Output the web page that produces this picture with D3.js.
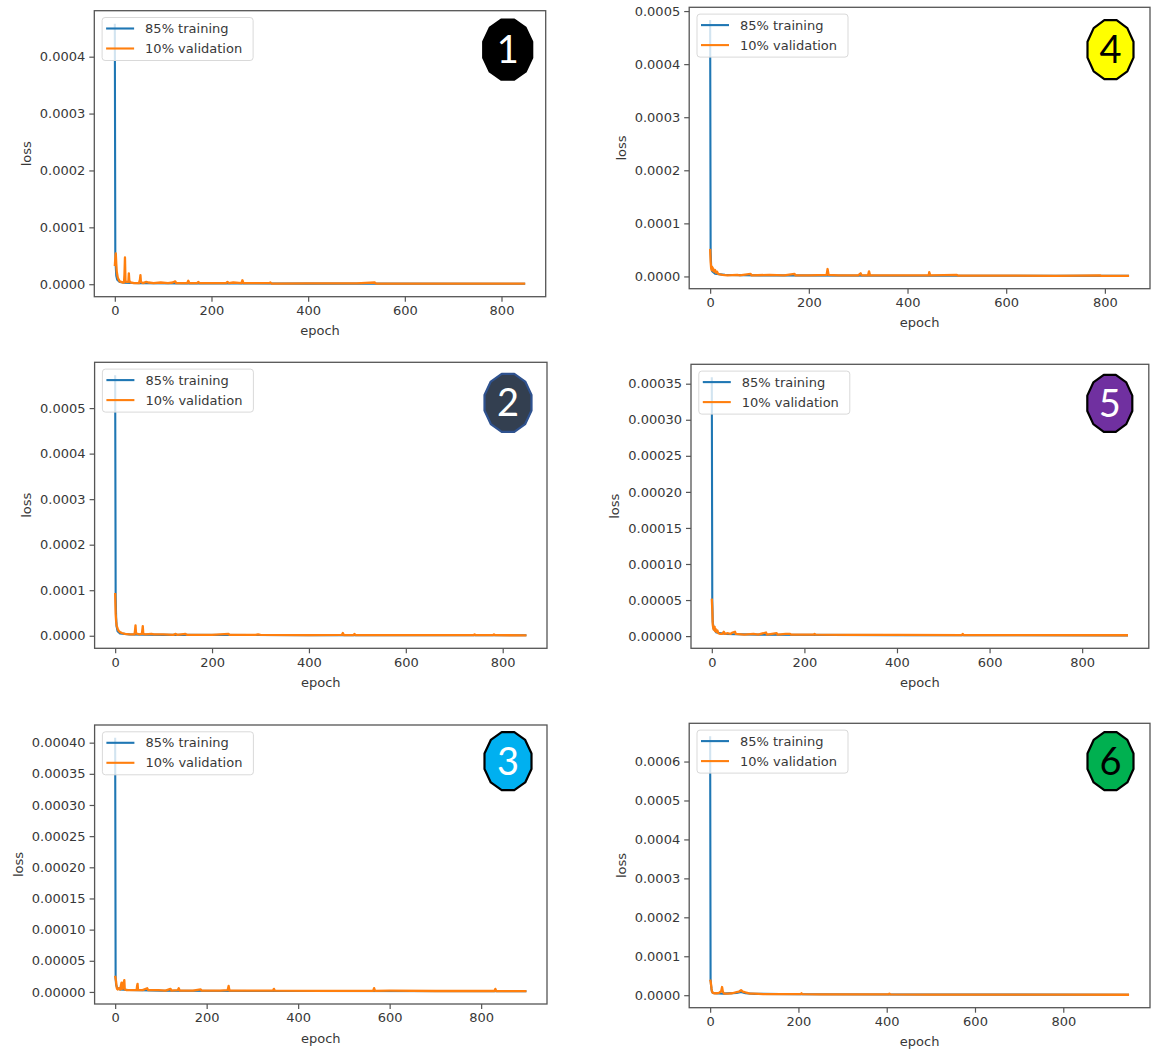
<!DOCTYPE html>
<html><head><meta charset="utf-8">
<script src="https://cdn.jsdelivr.net/npm/d3@7"></script>
<style>
body{margin:0;background:#fff;}
svg{display:block;}
</style></head><body>
<svg id="chart" width="1151" height="1049"></svg>
<script>
// ---------------- data ----------------
const xTicks = [0, 200, 400, 600, 800];
const legendLabels = ["85% training", "10% validation"];
const badgeLabels = ["1", "2", "3", "4", "5", "6"];
const xLabel = "epoch";
const yLabel = "loss";

const p1YTicks = [0, 0.0001, 0.0002, 0.0003, 0.0004];
const p2YTicks = [0, 0.0001, 0.0002, 0.0003, 0.0004, 0.0005];
const p3YTicks = [0, 0.00005, 0.0001, 0.00015, 0.0002, 0.00025, 0.0003, 0.00035, 0.0004];
const p4YTicks = [0, 0.0001, 0.0002, 0.0003, 0.0004, 0.0005];
const p5YTicks = [0, 0.00005, 0.0001, 0.00015, 0.0002, 0.00025, 0.0003, 0.00035];
const p6YTicks = [0, 0.0001, 0.0002, 0.0003, 0.0004, 0.0005, 0.0006];

// [epoch, loss]
const p1Train = [[0,4.58e-4],[1,5.5e-5],[2,3.0e-5],[3,1.5e-5],[5,8e-6],[10,4e-6],[20,2.5e-6],[50,1.8e-6],[150,1.4e-6],[400,1.1e-6],[849,9e-7]];
const p1Val = [[0,3.2e-5],[1,4.5e-5],[2,5.4e-5],[3,3.6e-5],[4,2.2e-5],[5,1.7e-5],[6,1.2e-5],[8,8e-6],[10,5e-6],[13,4e-6],[16,3e-6],[19,3e-6],[20,1.8e-5],[21,4.7e-5],[22,6e-6],[24,4e-6],[28,4e-6],[29,1.9e-5],[30,6e-6],[33,3e-6],[40,2e-6],[50,2e-6],[52,8e-6],[53,1.6e-5],[54,4e-6],[58,2e-6],[65,4e-6],[70,3e-6],[80,2e-6],[95,3e-6],[110,2e-6],[120,3e-6],[125,5e-6],[127,2e-6],[150,2e-6],[152,6e-6],[154,2e-6],[170,2e-6],[173,4e-6],[175,2e-6],[230,2e-6],[233,4e-6],[236,2e-6],[245,3e-6],[262,2e-6],[264,7e-6],[266,2e-6],[320,2e-6],[322,3e-6],[324,1.2e-6],[400,1.5e-6],[500,1.5e-6],[538,3e-6],[540,1.2e-6],[650,1e-6],[750,1e-6],[849,1e-6]];

const p2Train = [[0,5.72e-4],[1,9e-5],[2,4e-5],[3,2e-5],[5,1e-5],[10,5e-6],[30,3e-6],[100,2e-6],[400,1.4e-6],[849,1e-6]];
const p2Val = [[0,9.4e-5],[1,4.8e-5],[2,3.2e-5],[3,2.2e-5],[5,1.6e-5],[7,1.1e-5],[10,8e-6],[14,6e-6],[20,4e-6],[30,3e-6],[40,3e-6],[41,1.2e-5],[42,2.3e-5],[43,6e-6],[46,4e-6],[50,3e-6],[55,4e-6],[56,1.2e-5],[57,2.1e-5],[58,4e-6],[62,3e-6],[75,4e-6],[80,3e-6],[100,3e-6],[120,2e-6],[125,4e-6],[128,2e-6],[145,4e-6],[148,2e-6],[200,2e-6],[234,4e-6],[236,2e-6],[290,2e-6],[295,3e-6],[300,2e-6],[400,1.5e-6],[468,2e-6],[470,6e-6],[472,1.5e-6],[492,1.5e-6],[494,4e-6],[496,1.5e-6],[600,1.2e-6],[740,1.2e-6],[742,3e-6],[744,1.2e-6],[780,1.2e-6],[782,3e-6],[784,1.2e-6],[849,1e-6]];

const p3Train = [[0,4.08e-4],[1,2.2e-5],[2,1.2e-5],[4,7e-6],[10,4e-6],[30,3e-6],[100,2e-6],[400,1.4e-6],[899,1e-6]];
const p3Val = [[0,2.6e-5],[1,2.1e-5],[2,1.7e-5],[3,9e-6],[4,5e-6],[6,4e-6],[9,6e-6],[11,4e-6],[13,1.2e-5],[14,1.5e-5],[15,5e-6],[17,6e-6],[19,1.6e-5],[20,1.9e-5],[21,4e-6],[25,3e-6],[35,3e-6],[47,3e-6],[48,1e-5],[49,1.3e-5],[50,3e-6],[60,3e-6],[70,6e-6],[72,3e-6],[95,3e-6],[110,2e-6],[121,5e-6],[123,2e-6],[137,3e-6],[139,6e-6],[141,2e-6],[170,2e-6],[187,4e-6],[189,2e-6],[230,2e-6],[246,3e-6],[248,9.7e-6],[250,2e-6],[300,2e-6],[345,2e-6],[347,5e-6],[349,2e-6],[450,1.8e-6],[564,1.8e-6],[566,6e-6],[568,1.8e-6],[600,2e-6],[700,1.5e-6],[829,1.5e-6],[831,5e-6],[833,1.5e-6],[899,1.3e-6]];

const p4Train = [[0,4.83e-4],[1,4.8e-5],[2,2e-5],[4,1e-5],[10,5e-6],[30,3e-6],[100,2e-6],[400,1.4e-6],[849,1e-6]];
const p4Val = [[0,5.2e-5],[1,2.8e-5],[2,1.6e-5],[3,1.2e-5],[4,1.8e-5],[5,1.1e-5],[6,1.5e-5],[8,9e-6],[10,1.2e-5],[12,7e-6],[14,9e-6],[16,5e-6],[20,4e-6],[25,3e-6],[35,2e-6],[55,3e-6],[60,2e-6],[82,5e-6],[84,2e-6],[120,3e-6],[150,2e-6],[171,5e-6],[173,2e-6],[200,2e-6],[236,3e-6],[238,1.4e-5],[240,3e-6],[260,2e-6],[300,2e-6],[305,6e-6],[307,2e-6],[320,2e-6],[322,9.5e-6],[324,2e-6],[380,2e-6],[443,2e-6],[444,8e-6],[446,2e-6],[500,3e-6],[502,1.5e-6],[620,1.5e-6],[700,1.2e-6],[790,2e-6],[792,1.2e-6],[849,1e-6]];

const p5Train = [[0,3.59e-4],[1,5e-5],[2,2e-5],[4,1e-5],[10,5e-6],[30,3e-6],[100,2e-6],[400,1.4e-6],[899,1e-6]];
const p5Val = [[0,5.2e-5],[1,3.8e-5],[2,1.6e-5],[3,1.2e-5],[4,9e-6],[5,1.1e-5],[6,1.3e-5],[7,7e-6],[8,1e-5],[10,6e-6],[12,8e-6],[14,4e-6],[18,3e-6],[22,3e-6],[26,6e-6],[28,3e-6],[35,4e-6],[40,3e-6],[45,5e-6],[50,6e-6],[52,3e-6],[70,2e-6],[90,3e-6],[100,2e-6],[117,5e-6],[119,2e-6],[130,3e-6],[140,4e-6],[142,2e-6],[160,3e-6],[169,3e-6],[171,2e-6],[220,2e-6],[222,3e-6],[224,2e-6],[300,1.8e-6],[400,1.6e-6],[540,1.5e-6],[542,3e-6],[544,1.5e-6],[700,1.3e-6],[899,1.2e-6]];

const p6Train = [[0,6.65e-4],[1,4e-5],[2,2.6e-5],[3,1.6e-5],[4,1e-5],[6,6e-6],[10,5e-6],[30,4e-6],[60,6e-6],[70,8e-6],[80,5e-6],[100,3.5e-6],[200,2.5e-6],[400,1.8e-6],[949,1.1e-6]];
const p6Val = [[0,4e-5],[1,3.6e-5],[2,2.8e-5],[3,1.8e-5],[4,1e-5],[6,6e-6],[10,5e-6],[15,5e-6],[20,6e-6],[25,1e-5],[27,2.1e-5],[29,8e-6],[32,4e-6],[40,4e-6],[50,5e-6],[60,8e-6],[65,9e-6],[70,1.3e-5],[74,9e-6],[80,7e-6],[90,4e-6],[100,4e-6],[120,3e-6],[160,3e-6],[205,3e-6],[207,5e-6],[209,3e-6],[250,2e-6],[300,2e-6],[404,2e-6],[406,4e-6],[408,2e-6],[500,1.7e-6],[600,1.6e-6],[800,1.4e-6],[949,1.2e-6]];

// ---------------- layout / style ----------------
const panels = [
  {train:p1Train, val:p1Val, yTicks:p1YTicks, fmt:".4f", badge:badgeLabels[0],
   box:{l:94.3, r:545.7, t:10.7, b:296.7}, bc:[507.7,49.7], bs:[49,60], fill:"#000000", stroke:"#000000", tc:"#ffffff"},
  {train:p2Train, val:p2Val, yTicks:p2YTicks, fmt:".4f", badge:badgeLabels[1],
   box:{l:94.6, r:547, t:362.3, b:648.3}, bc:[508,402.8], bs:[47,58], fill:"#333f50", stroke:"#2f528f", tc:"#ffffff"},
  {train:p3Train, val:p3Val, yTicks:p3YTicks, fmt:".5f", badge:badgeLabels[2],
   box:{l:94.6, r:547, t:725, b:1004}, bc:[508,761.2], bs:[47,58], fill:"#00b0f0", stroke:"#000000", tc:"#ffffff"},
  {train:p4Train, val:p4Val, yTicks:p4YTicks, fmt:".4f", badge:badgeLabels[3],
   box:{l:689.2, r:1150, t:7.3, b:288.7}, bc:[1110.5,49.7], bs:[46,59], fill:"#ffff00", stroke:"#000000", tc:"#000000"},
  {train:p5Train, val:p5Val, yTicks:p5YTicks, fmt:".5f", badge:badgeLabels[4],
   box:{l:691, r:1148.8, t:364.3, b:648.3}, bc:[1109.8,403.3], bs:[45,57], fill:"#7030a0", stroke:"#000000", tc:"#ffffff"},
  {train:p6Train, val:p6Val, yTicks:p6YTicks, fmt:".4f", badge:badgeLabels[5],
   box:{l:689.2, r:1150, t:723.3, b:1007.7}, bc:[1110.5,761.2], bs:[46,58], fill:"#00b050", stroke:"#000000", tc:"#000000"}
];

const FONT = "'DejaVu Sans', sans-serif";
const TXT = "#383838";
const SPINE = "#555555";
const C_TRAIN = "#1f77b4", C_VAL = "#ff7f0e";

const svg = d3.select("#chart");
svg.append("rect").attr("width",1151).attr("height",1049).attr("fill","#fff");

panels.forEach(p => {
  const B = p.box;
  const g = svg.append("g");
  const last = d3.max(p.train.concat(p.val), d => d[0]);
  const x = d3.scaleLinear().domain([-0.05*last, 1.05*last]).range([B.l, B.r]);
  const vals = p.train.concat(p.val).map(d => d[1]);
  const mn = d3.min(vals), mx = d3.max(vals), rg = mx - mn;
  const y = d3.scaleLinear().domain([mn - 0.05*rg, mx + 0.05*rg]).range([B.b, B.t]);

  const line = d3.line().x(d => x(d[0])).y(d => y(d[1]));
  g.append("path").datum(p.train).attr("d", line).attr("fill","none")
    .attr("stroke", C_TRAIN).attr("stroke-width", 2.1).attr("stroke-linejoin","round");
  g.append("path").datum(p.val).attr("d", line).attr("fill","none")
    .attr("stroke", C_VAL).attr("stroke-width", 2.3).attr("stroke-linejoin","round");

  // axes
  const xa = g.append("g").attr("transform", `translate(0,${B.b})`)
    .call(d3.axisBottom(x).tickValues(xTicks).tickSize(5).tickPadding(4).tickFormat(d3.format("d")));
  const ya = g.append("g").attr("transform", `translate(${B.l},0)`)
    .call(d3.axisLeft(y).tickValues(p.yTicks).tickSize(5).tickPadding(4).tickFormat(d3.format(p.fmt)));
  [xa, ya].forEach(a => {
    a.select(".domain").remove();
    a.selectAll(".tick line").attr("stroke", SPINE).attr("stroke-width", 1.2);
    a.selectAll(".tick text").attr("fill", TXT).style("font-family", FONT).style("font-size", "13px");
  });

  // frame
  g.append("rect").attr("x", B.l).attr("y", B.t).attr("width", B.r - B.l).attr("height", B.b - B.t)
    .attr("fill","none").attr("stroke", SPINE).attr("stroke-width", 1.3);

  // axis labels
  g.append("text").attr("x", (B.l + B.r)/2).attr("y", B.b + 38.5).attr("text-anchor","middle")
    .attr("fill", TXT).style("font-family", FONT).style("font-size","13px").text(xLabel);
  const yb = ya.node().getBBox();
  const lx = B.l + yb.x - 9, ly = (B.t + B.b)/2;
  g.append("text").attr("transform", `translate(${lx},${ly}) rotate(-90)`).attr("text-anchor","middle")
    .attr("fill", TXT).style("font-family", FONT).style("font-size","13px").text(yLabel);

  // legend
  const lgx = B.l + 7.8, lgy = B.t + 6.8;
  const lg = g.append("g");
  lg.append("rect").attr("x", lgx).attr("y", lgy).attr("width", 151).attr("height", 43).attr("rx", 3)
    .attr("fill", "#ffffff").attr("fill-opacity", 0.8).attr("stroke", "#d9d9d9").attr("stroke-width", 1);
  [[legendLabels[0], C_TRAIN], [legendLabels[1], C_VAL]].forEach((e, i) => {
    const ry = lgy + 11 + i*20;
    lg.append("line").attr("x1", lgx + 4).attr("x2", lgx + 32).attr("y1", ry).attr("y2", ry)
      .attr("stroke", e[1]).attr("stroke-width", 2.1);
    lg.append("text").attr("x", lgx + 43).attr("y", ry + 4.6).attr("fill", TXT)
      .style("font-family", FONT).style("font-size","13px").text(e[0]);
  });

  // badge (rounded polygon)
  const [cx, cy] = p.bc, [bw, bh] = p.bs;
  const n = 12, k0 = Math.cos(Math.PI/n);
  const rx = bw/2/k0, ry = bh/2/k0;
  const pts = d3.range(n).map(k => {
    const a = Math.PI/n + k*2*Math.PI/n;
    return [cx + rx*Math.cos(a), cy + ry*Math.sin(a)];
  });
  g.append("path").attr("d", d3.line().curve(d3.curveLinearClosed)(pts))
    .attr("fill", p.fill).attr("stroke", p.stroke).attr("stroke-width", 2.2).attr("stroke-linejoin","round");
  g.append("text").attr("x", cx).attr("y", cy + 13.5).attr("text-anchor","middle")
    .attr("fill", p.tc).style("font-family", "Lato, 'Open Sans', sans-serif").style("font-size","38px")
    .text(p.badge);
});
</script>
</body></html>
